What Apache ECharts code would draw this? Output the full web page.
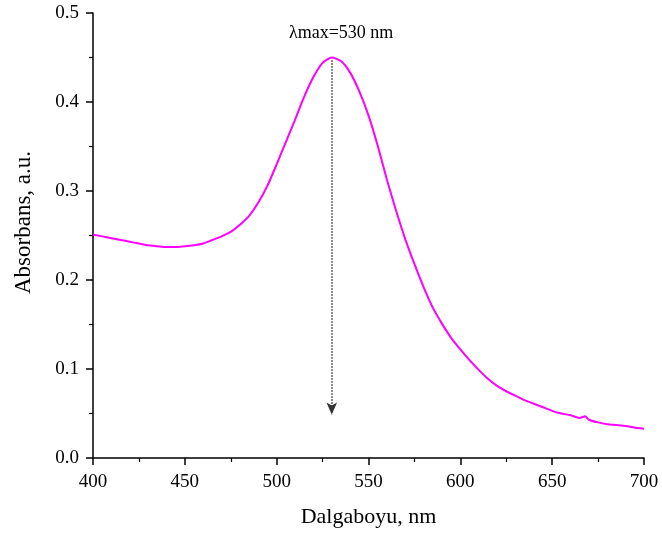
<!DOCTYPE html>
<html>
<head>
<meta charset="utf-8">
<script src="https://cdn.jsdelivr.net/npm/echarts@6/dist/echarts.min.js"></script>
<style>
  html, body { margin: 0; padding: 0; background: #fff; }
  #chart { width: 662px; height: 536px; }
</style>
</head>
<body>
<div id="chart"></div>
<script>
// wavelength (nm) and absorbance
const wavelengths = [
  400, 405, 410, 415, 420, 425, 430, 435, 440, 445, 450, 455, 460, 465, 470, 475,
  480, 485, 490, 495, 500, 505, 510, 515, 520, 525, 530, 535, 540, 545, 550, 555,
  560, 565, 570, 575, 580, 585, 590, 595, 600, 605, 610, 615, 620, 625, 630, 635,
  640, 645, 650, 655, 660, 665, 668, 670, 675, 680, 685, 690, 695, 700
];
const absorbance = [
  0.251, 0.249, 0.247, 0.245, 0.243, 0.241, 0.239, 0.238, 0.237, 0.237, 0.238, 0.239,
  0.241, 0.245, 0.249, 0.254, 0.262, 0.272, 0.287, 0.306, 0.330, 0.355, 0.380, 0.406,
  0.428, 0.444, 0.450, 0.446, 0.433, 0.412, 0.385, 0.351, 0.313, 0.278, 0.246, 0.218,
  0.192, 0.169, 0.151, 0.135, 0.122, 0.110, 0.099, 0.089, 0.081, 0.075, 0.070, 0.065,
  0.061, 0.057, 0.053, 0.050, 0.048, 0.045, 0.047, 0.043, 0.040, 0.038, 0.037, 0.036,
  0.034, 0.033
];
const peakWavelength = 530;
const peakTop = 0.447;
const arrowEnd = 0.049;
const peakLabel = "λmax=530 nm";

const serif = "Liberation Serif, Times New Roman, serif";
const chart = echarts.init(document.getElementById("chart"));

const axisCommon = {
  axisLine: { lineStyle: { color: "#000", width: 1.5 } },
  axisTick: { inside: false, length: 7, lineStyle: { color: "#000", width: 1.5 } },
  minorTick: { show: true, splitNumber: 2, length: 4, lineStyle: { color: "#000", width: 1.2 } },
  splitLine: { show: false },
  nameTextStyle: { fontFamily: serif, fontSize: 22, color: "#000" },
};

const option = {
  animation: false,
  backgroundColor: "#fff",
  grid: { left: 93, right: 18, top: 13, bottom: 78 },
  xAxis: {
    ...axisCommon,
    type: "value",
    min: 400,
    max: 700,
    interval: 50,
    name: "Dalgaboyu, nm",
    nameLocation: "middle",
    nameGap: 48,
    axisLabel: { fontFamily: serif, fontSize: 19, color: "#000", margin: 15 },
  },
  yAxis: {
    ...axisCommon,
    type: "value",
    min: 0,
    max: 0.5,
    interval: 0.1,
    name: "Absorbans, a.u.",
    nameLocation: "middle",
    nameGap: 58,
    nameTextStyle: {
      fontFamily: serif,
      fontSize: 23,
      color: "#000",
      padding: [0, 0, 0, 26],
    },
    axisLabel: {
      fontFamily: serif,
      fontSize: 19,
      color: "#000",
      margin: 14,
      formatter: (v) => v.toFixed(1),
    },
  },
  graphic: [
    {
      type: "text",
      left: 289,
      top: 24,
      style: { text: peakLabel, font: "18px " + serif, fill: "#000" },
    },
  ],
  series: [
    {
      type: "line",
      data: wavelengths.map((w, i) => [w, absorbance[i]]),
      showSymbol: false,
      smooth: 0.2,
      lineStyle: { color: "#ff00ff", width: 2 },
      markLine: {
        silent: true,
        symbol: ["none", "arrow"],
        symbolSize: [8, 12],
        label: { show: false },
        lineStyle: { color: "#333", type: "dotted", width: 1.5 },
        data: [
          [
            { coord: [peakWavelength, peakTop] },
            { coord: [peakWavelength, arrowEnd] },
          ],
        ],
      },
    },
  ],
};

chart.setOption(option);
</script>
</body>
</html>
